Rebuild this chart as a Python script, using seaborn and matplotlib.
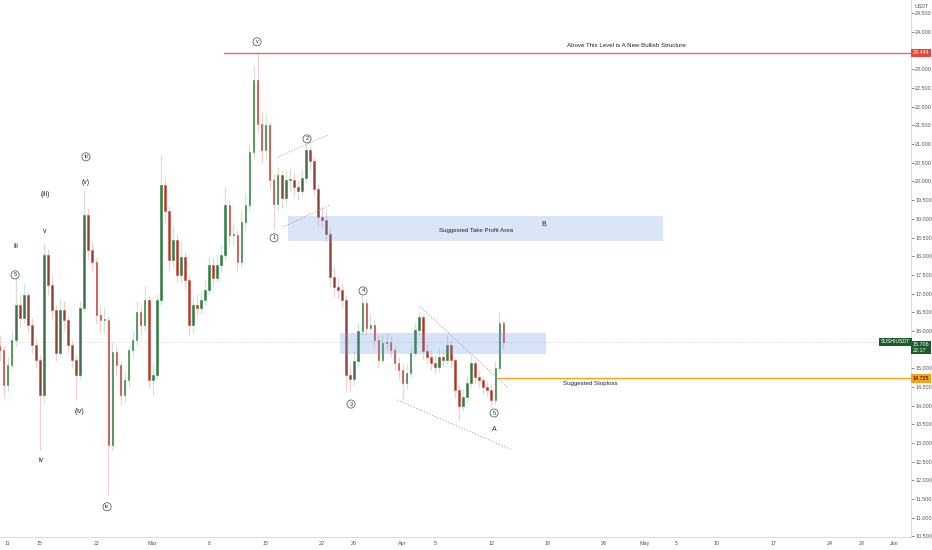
import matplotlib
matplotlib.use("Agg")
import matplotlib.pyplot as plt
import matplotlib.dates as mdates
import seaborn as sns
import pandas as pd
import numpy as np

# ---------------- data (SUSHIUSDT, 12h candles) ----------------
start = "2021-02-09 12:00"
first_open = 15.35
closes = [
    15.60, 15.49, 14.55, 15.09, 15.76, 16.70, 16.35, 16.96, 16.16, 15.62,
    15.22, 14.28, 18.03, 17.23, 16.56, 15.40, 16.56, 16.29, 15.62, 15.22,
    14.82, 16.60, 19.10, 18.17, 17.85, 16.43, 16.29, 16.30, 12.94, 15.44,
    15.09, 14.28, 14.69, 15.49, 15.76, 16.51, 16.16, 16.83, 14.69, 14.82,
    16.83, 19.90, 19.20, 17.90, 18.44, 17.50, 17.98, 17.36, 16.16, 16.70,
    16.62, 16.83, 17.10, 17.77, 17.42, 17.77, 18.03, 19.37, 18.57, 18.57,
    17.85, 18.92, 19.37, 20.80, 22.72, 21.55, 20.84, 21.50, 20.04, 19.40,
    20.17, 19.56, 20.04, 20.04, 19.85, 19.75, 20.10, 20.84, 20.55, 19.80,
    19.05, 18.97, 18.60, 17.45, 17.17, 17.10, 16.83, 14.82, 14.70, 15.20,
    16.00, 16.75, 16.08, 16.16, 15.76, 15.22, 15.68, 15.70, 15.49, 15.14,
    14.95, 14.60, 14.87, 15.40, 16.02, 16.37, 15.45, 15.30, 15.14, 15.03,
    15.30, 15.22, 15.62, 15.22, 14.42, 14.00, 14.23, 14.60, 15.14, 14.77,
    14.69, 14.50, 14.42, 14.15, 15.00, 16.21, 15.71,
]
highs = [
    15.90, 15.85, 15.60, 15.30, 16.00, 17.44, 16.95, 17.25, 17.05, 16.35,
    15.80, 15.35, 18.35, 18.20, 17.45, 16.70, 16.85, 16.80, 16.40, 15.75,
    15.35, 16.80, 19.77, 19.30, 18.40, 17.95, 16.70, 16.65, 16.40, 15.70,
    15.60, 15.20, 14.90, 15.60, 16.00, 16.80, 16.70, 17.20, 16.95, 15.10,
    17.00, 20.71, 20.10, 19.35, 18.80, 18.60, 18.40, 18.10, 17.50, 16.90,
    17.00, 17.10, 17.40, 18.00, 17.95, 18.05, 18.30, 19.85, 19.50, 18.90,
    18.70, 19.20, 19.70, 21.00, 23.10, 23.44, 21.85, 21.80, 21.60, 20.20,
    20.40, 20.30, 20.30, 20.35, 20.25, 20.05, 20.30, 21.00, 20.95, 20.65,
    19.95, 19.35, 19.20, 18.75, 17.70, 17.45, 17.25, 16.95, 15.10, 15.45,
    16.20, 16.96, 16.85, 16.45, 16.30, 15.90, 15.90, 15.95, 15.85, 15.60,
    15.30, 15.10, 15.10, 15.60, 16.20, 16.51, 16.45, 15.65, 15.50, 15.35,
    15.55, 15.50, 15.90, 15.75, 15.30, 14.55, 14.45, 14.80, 15.35, 15.25,
    14.95, 14.80, 14.65, 14.55, 15.20, 16.51, 16.30,
]
lows = [
    15.10, 15.20, 14.20, 14.35, 14.95, 15.60, 16.10, 16.20, 15.95, 15.40,
    15.00, 12.81, 14.10, 16.95, 16.30, 15.20, 15.30, 16.00, 15.40, 15.00,
    14.15, 14.70, 16.50, 17.90, 17.60, 16.20, 16.00, 15.95, 11.61, 12.80,
    14.80, 14.00, 14.10, 14.50, 15.30, 15.60, 15.90, 16.00, 14.50, 14.28,
    14.70, 16.70, 18.90, 17.60, 17.70, 17.30, 17.30, 17.10, 15.90, 15.95,
    16.40, 16.45, 16.70, 17.00, 17.20, 17.30, 17.60, 17.90, 18.30, 18.30,
    17.60, 17.70, 18.70, 19.20, 20.60, 21.30, 20.50, 20.60, 19.80, 18.70,
    19.20, 19.30, 19.40, 19.75, 19.60, 19.50, 19.60, 19.95, 20.30, 19.60,
    18.80, 18.75, 18.40, 17.20, 16.90, 16.85, 16.60, 14.36, 14.40, 14.55,
    15.05, 15.90, 15.90, 15.95, 15.55, 15.00, 15.10, 15.45, 15.30, 14.95,
    14.70, 14.15, 14.45, 14.75, 15.30, 15.90, 15.25, 15.10, 14.95, 14.85,
    14.90, 15.05, 15.10, 15.00, 14.20, 13.62, 13.85, 14.10, 14.50, 14.60,
    14.50, 14.30, 14.25, 13.95, 14.05, 14.90, 15.55,
]

resistance = 23.444
stoploss = 14.725
last_price = 15.706

x_tick_dates = ["2021-02-11", "2021-02-15", "2021-02-22", "2021-03-01", "2021-03-08",
                "2021-03-15", "2021-03-22", "2021-03-26", "2021-04-01", "2021-04-05",
                "2021-04-12", "2021-04-19", "2021-04-26", "2021-05-01", "2021-05-05",
                "2021-05-10", "2021-05-17", "2021-05-24", "2021-05-28", "2021-06-01"]
x_tick_labels = ["11", "15", "22", "Mar", "8", "15", "22", "26", "Apr", "5",
                 "12", "19", "26", "May", "5", "10", "17", "24", "28", "Jun"]
# price scale labels hidden behind the price tags
hidden_ticks = [23.5, 15.5]

# wave labels: (text, days after Mar 1, price, circled)
wave_labels = [
    ("v", 12.94, 23.74, True), ("2", 19.14, 21.14, True), ("1", 15.05, 18.49, True),
    ("3", 24.6, 14.04, True), ("4", 26.09, 17.07, True), ("5", 42.35, 13.80, True),
    ("5", -17.08, 17.50, True), ("iii", -16.96, 18.27, False), ("(iii)", -13.36, 19.64, False),
    ("v", -13.36, 18.65, False), ("iii", -8.28, 20.66, True), ("(v)", -8.28, 19.96, False),
    ("(iv)", -9.14, 13.83, False), ("iv", -13.86, 12.54, False), ("iv", -5.67, 11.29, True),
    ("A", 42.35, 13.35, False), ("B", 48.55, 18.84, False),
]

# ---------------- style ----------------
bull_body, bull_edge, bull_wick = "#42704a", "#2f8a45", "#d3e3d6"
bear_body, bear_edge, bear_wick = "#8a4334", "#d9473c", "#f1d0d0"
red_line = "#ef6a5e"
orange_line = "#f9a11b"
axis_color = "#d9dce3"
tick_color = "#555555"
tick_fs = 3.9
note_fs = 4.4

df = pd.DataFrame({"close": closes, "high": highs, "low": lows})
df["date"] = pd.date_range(start, periods=len(df), freq="12h")
df["open"] = df["close"].shift(1).fillna(first_open)
df["up"] = df["close"] >= df["open"]

sns.set_theme(style="white")
plt.rcParams["font.family"] = ["Liberation Sans Narrow", "Liberation Sans", "DejaVu Sans"]

fig = plt.figure(figsize=(9.32, 5.5), dpi=100)
ax = fig.add_axes([0, 13 / 550, 911 / 932, 537 / 550])

mar1 = mdates.date2num(pd.Timestamp("2021-03-01"))


def d(days):
    return mar1 + days


dn = mdates.date2num(df["date"])

# wicks
ax.vlines(dn, df["low"], df["high"],
          colors=np.where(df["up"], bull_wick, bear_wick), lw=0.9, zorder=2)
# bodies
body_h = (df["close"] - df["open"]).abs().clip(lower=0.03)
body_b = df[["open", "close"]].min(axis=1)
ax.bar(dn, body_h, bottom=body_b, width=0.2,
       color=np.where(df["up"], bull_body, bear_body),
       edgecolor=np.where(df["up"], bull_edge, bear_edge), linewidth=0.4, zorder=3)

# boxes (drawn above candles, translucent like TradingView)
ax.fill_between([d(16.8), d(63.3)], 18.41, 19.08, color="#6c99e0", alpha=0.25, lw=0, zorder=4)
ax.fill_between([d(23.2), d(48.8)], 15.38, 15.94, color="#6c99e0", alpha=0.28, lw=0, zorder=4)

# level lines
ax.axhline(last_price, color="#b8bcc6", lw=0.5, ls=(0, (1, 2)), zorder=1)
ax.plot([d(8.85), d(100)], [resistance, resistance], color=red_line, lw=1.0, zorder=5)
ax.plot([d(42.7), d(100)], [stoploss, stoploss], color=orange_line, lw=1.0, zorder=5)

# dotted trend lines
dot = dict(color="#9a9ea8", lw=0.6, ls=(0, (1.5, 2)), zorder=5)
ax.plot([d(15.56), d(21.75)], [20.66, 21.25], **dot)
ax.plot([d(16.18), d(22.0)], [18.78, 19.37], **dot)
ax.plot([d(33.19), d(44.1)], [16.64, 14.47], **dot)
ax.plot([d(30.33), d(44.6)], [14.15, 12.81], **dot)

# notes
ax.text(d(58.7), 23.65, "Above This Level is A New Bullish Structure", fontsize=note_fs,
        ha="center", va="center", color="#222222", zorder=6)
ax.text(d(40.1), 18.68, "Suggested Take Profit Area", fontsize=note_fs,
        ha="center", va="center", color="#222222", zorder=6)
ax.text(d(54.25), 14.58, "Suggested Stoploss", fontsize=note_fs,
        ha="center", va="center", color="#222222", zorder=6)

for txt, dd, p, circ in wave_labels:
    kw = dict(fontsize=5.0, ha="center", va="center", color="#222222", zorder=6)
    if circ:
        kw["bbox"] = dict(boxstyle="circle,pad=0.28", fc="white", ec="#444444", lw=0.5)
        kw["fontsize"] = 4.0
    ax.text(d(dd), p, txt, **kw)

# axes
ax.set_xlim(d(-18.95), d(94.07))
ax.set_ylim(10.48, 24.86)
ax.set_xticks([mdates.date2num(pd.Timestamp(t)) for t in x_tick_dates])
ax.set_xticklabels(x_tick_labels)
yt = np.arange(10.5, 24.51, 0.5)
ax.set_yticks(yt)
ax.set_yticklabels(["" if round(v, 2) in hidden_ticks else f"{v:.3f}" for v in yt])
ax.yaxis.tick_right()
ax.tick_params(axis="both", labelsize=tick_fs, colors=tick_color, length=2, width=0.5,
               pad=1.0, direction="out")
for name, sp in ax.spines.items():
    sp.set_visible(name in ("bottom", "right"))
    sp.set_color(axis_color)
    sp.set_linewidth(0.8)
ax.grid(False)

fig.text(915 / 932, 1 - 6 / 550, "USDT", fontsize=tick_fs, color=tick_color, va="center")

# price tags on the scale
ytf = ax.get_yaxis_transform()
ax.text(1.002, resistance, "23.444", transform=ytf, fontsize=tick_fs, color="white",
        va="center", ha="left", clip_on=False,
        bbox=dict(boxstyle="square,pad=0.3", fc="#e8453c", ec="none"))
ax.text(1.002, stoploss, "14.725", transform=ytf, fontsize=tick_fs, color="black",
        va="center", ha="left", clip_on=False,
        bbox=dict(boxstyle="square,pad=0.3", fc=orange_line, ec="none"))
ax.text(0.999, last_price, "SUSHIUSDT", transform=ytf, fontsize=tick_fs - 0.2, color="white",
        va="center", ha="right", clip_on=False, zorder=7,
        bbox=dict(boxstyle="square,pad=0.3", fc="#1e5b2a", ec="none"))
ax.text(1.002, last_price - 0.15, "15.706\n22:17", transform=ytf, fontsize=tick_fs, color="white",
        va="center", ha="left", clip_on=False, linespacing=1.1,
        bbox=dict(boxstyle="square,pad=0.3", fc="#1e5b2a", ec="none"))

fig.savefig("out.png", dpi=100, facecolor="white")
